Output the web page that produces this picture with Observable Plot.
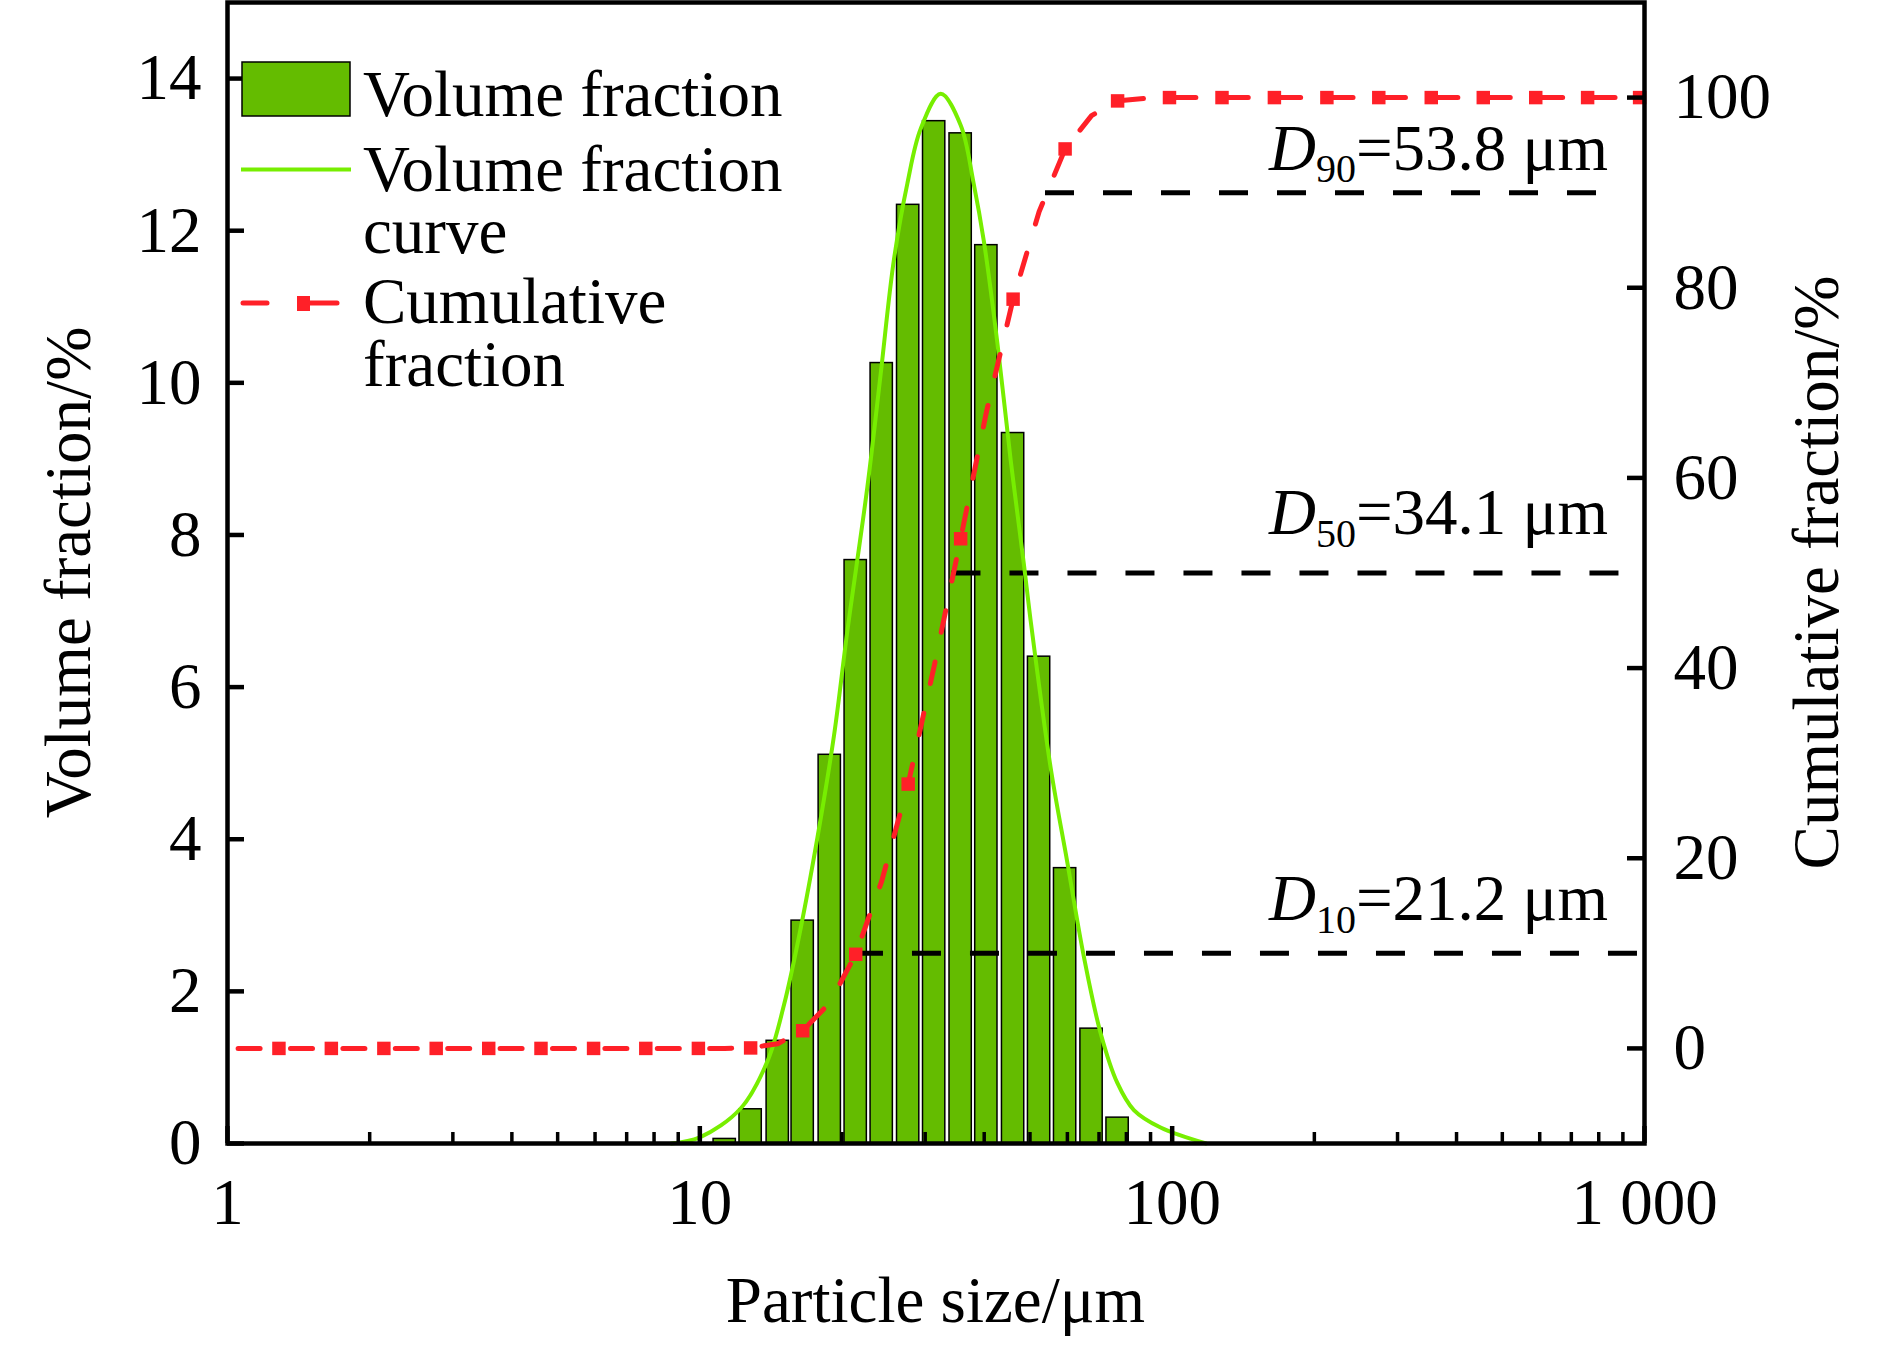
<!DOCTYPE html>
<html><head><meta charset="utf-8">
<script src="https://cdn.jsdelivr.net/npm/d3@7"></script>
<script src="https://cdn.jsdelivr.net/npm/@observablehq/plot@0.6"></script>
<style>html,body{margin:0;padding:0;background:#fff;} svg{display:block;}</style>
</head><body>
<script>
// ---------------- data ----------------
// histogram bins: bin centre (µm) and volume fraction (%)
const binSize   = [11.29, 12.81, 14.62, 16.51, 18.84, 21.38, 24.27, 27.61, 31.34, 35.66, 40.42, 46.05, 52.27, 59.34, 67.5, 76.64];
const binVolume = [0.06, 0.45, 1.35, 2.93, 5.11, 7.67, 10.26, 12.34, 13.44, 13.28, 11.81, 9.34, 6.40, 3.62, 1.51, 0.34];

// fitted volume fraction curve
const curveSize   = [8.7, 10.0, 12.2, 13.9, 15.07, 16.35, 17.74, 19.23, 20.53, 22.63, 24.15, 25.76, 27.5, 29.35, 32.35, 35.65, 38.0, 39.96, 42.64, 45.5, 48.5, 50.15, 55.3, 59.97, 65.0, 70.56, 76.5, 82.97, 94.5, 118];
const curveVolume = [0, 0.08, 0.46, 1.08, 1.82, 2.83, 4.02, 5.36, 6.74, 8.63, 10.12, 11.62, 12.62, 13.34, 13.8, 13.39, 12.62, 11.85, 10.53, 8.99, 7.63, 6.88, 4.94, 3.70, 2.46, 1.45, 0.80, 0.44, 0.21, 0];

// cumulative fraction line (%)
const cumLineSize  = [1.0, 1.285, 1.659, 2.143, 2.766, 3.573, 4.61, 5.957, 7.684, 9.93, 11.29, 12.81, 14.62, 16.51, 18.84, 21.38, 24.27, 27.61, 31.34, 35.66, 40.42, 46.05, 52.27, 59.34, 67.5, 76.64, 87.0, 98.7, 127.5, 164.6, 212.6, 273.8, 353.6, 455.7, 588.5, 757.8, 976.4, 1000];
const cumLineValue = [0, 0, 0, 0, 0, 0, 0, 0, 0, 0, 0, 0.05, 0.5, 1.86, 4.8, 9.9, 17.6, 27.8, 40.2, 53.6, 66.9, 78.8, 88.0, 94.6, 98.1, 99.65, 99.9, 100, 100, 100, 100, 100, 100, 100, 100, 100, 100, 100];
// cumulative markers (every second point)
const markerSize  = [1.285, 1.659, 2.143, 2.766, 3.573, 4.61, 5.957, 7.684, 9.93, 12.81, 16.51, 21.38, 27.61, 35.66, 46.05, 59.34, 76.64, 98.7, 127.5, 164.6, 212.6, 273.8, 353.6, 455.7, 588.5, 757.8, 976.4];
const markerValue = [0, 0, 0, 0, 0, 0, 0, 0, 0, 0.05, 1.86, 9.9, 27.8, 53.6, 78.8, 94.6, 99.65, 100, 100, 100, 100, 100, 100, 100, 100, 100, 100];

// characteristic diameters
const dName  = ["10", "50", "90"];
const dLevel = [10, 50, 90];          // cumulative %
const dSize  = [21.2, 34.1, 53.8];    // µm
const dEnd   = [1000, 1000, 800];     // where the dashed guide ends (µm)
const dText  = ["=21.2 μm", "=34.1 μm", "=53.8 μm"];

// axes
const xMajor = [1, 10, 100, 1000];
const xMajorLabel = ["1", "10", "100", "1 000"];
const xMinor = [2, 3, 4, 5, 6, 7, 8, 9, 20, 30, 40, 50, 60, 70, 80, 90, 200, 300, 400, 500, 600, 700, 800, 900];
const leftTicks = [0, 2, 4, 6, 8, 10, 12, 14];
const rightTicks = [0, 20, 40, 60, 80, 100];
const leftDomain = [0, 15];
const rightDomain = [-10, 110];

// ---------------- styling ----------------
const FONT = "'Liberation Serif', 'Times New Roman', serif";
const FS = 65;
const BAR_GREEN = "#64bc00";
const CURVE_GREEN = "#77ee00";
const RED = "#ff2028";
const AXW = 4.5;
const halfBin = Math.pow(10, 0.0236);

const W = 1890, H = 1346, ML = 227, MR = 246, MT = 2, MB = 203;
const PW = W - ML - MR, PH = H - MT - MB;
const MAJ = 17, MIN = 11;

const toLeft = c => leftDomain[0] + (c - rightDomain[0]) * (leftDomain[1] - leftDomain[0]) / (rightDomain[1] - rightDomain[0]);
const fromLeft = v => rightDomain[0] + (v - leftDomain[0]) * (rightDomain[1] - rightDomain[0]) / (leftDomain[1] - leftDomain[0]);

const bars = binSize.map((s, i) => ({size: s, vol: binVolume[i]}));
const curve = curveSize.map((s, i) => ({size: s, vol: curveVolume[i]}));
const cumLine = cumLineSize.map((s, i) => ({size: s, cum: cumLineValue[i]}));
const markers = markerSize.map((s, i) => ({size: s, cum: markerValue[i]}));
const dLines = dName.map((n, i) => ({name: n, level: dLevel[i], size: dSize[i], end: dEnd[i]}));

const plot = Plot.plot({
  width: W,
  height: H,
  marginLeft: ML,
  marginRight: MR,
  marginTop: MT,
  marginBottom: MB,
  style: {fontFamily: FONT, fontSize: FS + "px", background: "white", color: "black", overflow: "visible"},
  x: {type: "log", domain: [1, 1000]},
  y: {domain: leftDomain},
  marks: [
    Plot.rectY(bars, {x1: d => d.size / halfBin, x2: d => d.size * halfBin, y1: 0, y2: "vol", fill: BAR_GREEN, stroke: "black", strokeWidth: 1.5}),
    Plot.link(dLines, {x1: "size", x2: "end", y1: d => toLeft(d.level), y2: d => toLeft(d.level), stroke: "black", strokeWidth: 5, strokeDasharray: "29,29"}),
    Plot.line(curve, {x: "size", y: "vol", stroke: CURVE_GREEN, strokeWidth: 4, curve: "catmull-rom"}),
    Plot.line(cumLine, {x: "size", y: d => toLeft(d.cum), stroke: RED, strokeWidth: 5, strokeLinecap: "round", strokeDasharray: "22,30.4", strokeDashoffset: -10.6}),
    Plot.dot(markers, {x: "size", y: d => toLeft(d.cum), symbol: "square", r: 7.6, fill: RED, stroke: "none"}),
    // inward ticks
    Plot.tickX(xMajor, {x: d => d, insetTop: PH - MAJ, stroke: "black", strokeWidth: AXW}),
    Plot.tickX(xMinor, {x: d => d, insetTop: PH - MIN, stroke: "black", strokeWidth: 3.5}),
    Plot.tickY(leftTicks, {y: d => d, insetRight: PW - MAJ, stroke: "black", strokeWidth: AXW}),
    Plot.tickY(rightTicks, {y: d => toLeft(d), insetLeft: PW - MAJ, stroke: "black", strokeWidth: AXW}),
    // tick labels
    Plot.axisX({ticks: xMajor, tickSize: 0, tickPadding: 34, fontSize: FS, tickFormat: d => xMajorLabel[xMajor.indexOf(d)], label: null}),
    Plot.axisY({ticks: leftTicks, tickSize: 0, tickPadding: 26, fontSize: FS, label: null}),
    Plot.axisY({anchor: "right", ticks: rightTicks.map(toLeft), tickSize: 0, tickPadding: 29, fontSize: FS, tickFormat: v => String(Math.round(fromLeft(v))), label: null}),
    Plot.frame({stroke: "black", strokeWidth: AXW})
  ]
});
document.body.appendChild(plot);

// ---------------- annotations via the plot's own scales ----------------
const xs = plot.scale("x"), ys = plot.scale("y");
const svg = d3.select(plot);
const g = svg.append("g").attr("font-family", FONT).attr("font-size", FS).attr("fill", "black").attr("text-anchor", "start");

const x0 = xs.apply(1), x1 = xs.apply(1000);
const yTop = ys.apply(leftDomain[1]), yBot = ys.apply(leftDomain[0]);
const yMid = (yTop + yBot) / 2;

// axis titles
g.append("text").attr("x", (x0 + x1) / 2).attr("y", 1322).attr("text-anchor", "middle").text("Particle size/μm");
g.append("text").attr("transform", `translate(90,${yMid}) rotate(-90)`).attr("text-anchor", "middle").text("Volume fraction/%");
g.append("text").attr("transform", `translate(1838,${yMid}) rotate(-90)`).attr("text-anchor", "middle").text("Cumulative fraction/%");

// D labels
const dRaise = [32.6, 38.5, 22.5];
dLines.forEach((d, i) => {
  const t = g.append("text").attr("x", x1 - 36).attr("y", ys.apply(toLeft(d.level)) - dRaise[i]).attr("text-anchor", "end");
  t.append("tspan").attr("font-style", "italic").text("D");
  t.append("tspan").attr("font-size", 40).attr("dy", 12.5).text(d.name);
  t.append("tspan").attr("dy", -12.5).text(dText[i]);
});

// legend
const lg = g.append("g").attr("text-anchor", "start");
lg.append("rect").attr("x", 242).attr("y", 62).attr("width", 108).attr("height", 54).attr("fill", BAR_GREEN).attr("stroke", "black").attr("stroke-width", 1.5);
lg.append("text").attr("x", 363).attr("y", 116).text("Volume fraction");
lg.append("line").attr("x1", 241).attr("x2", 351).attr("y1", 169.5).attr("y2", 169.5).attr("stroke", CURVE_GREEN).attr("stroke-width", 4);
lg.append("text").attr("x", 363).attr("y", 191).text("Volume fraction");
lg.append("text").attr("x", 363).attr("y", 253).text("curve");
lg.append("line").attr("x1", 243).attr("x2", 267).attr("y1", 303).attr("y2", 303).attr("stroke", RED).attr("stroke-width", 5).attr("stroke-linecap", "round");
lg.append("line").attr("x1", 304).attr("x2", 337).attr("y1", 303).attr("y2", 303).attr("stroke", RED).attr("stroke-width", 5).attr("stroke-linecap", "round");
lg.append("rect").attr("x", 297).attr("y", 296).attr("width", 13).attr("height", 15).attr("fill", RED);
lg.append("text").attr("x", 363).attr("y", 323).text("Cumulative");
lg.append("text").attr("x", 363).attr("y", 386).text("fraction");
</script>
</body></html>
